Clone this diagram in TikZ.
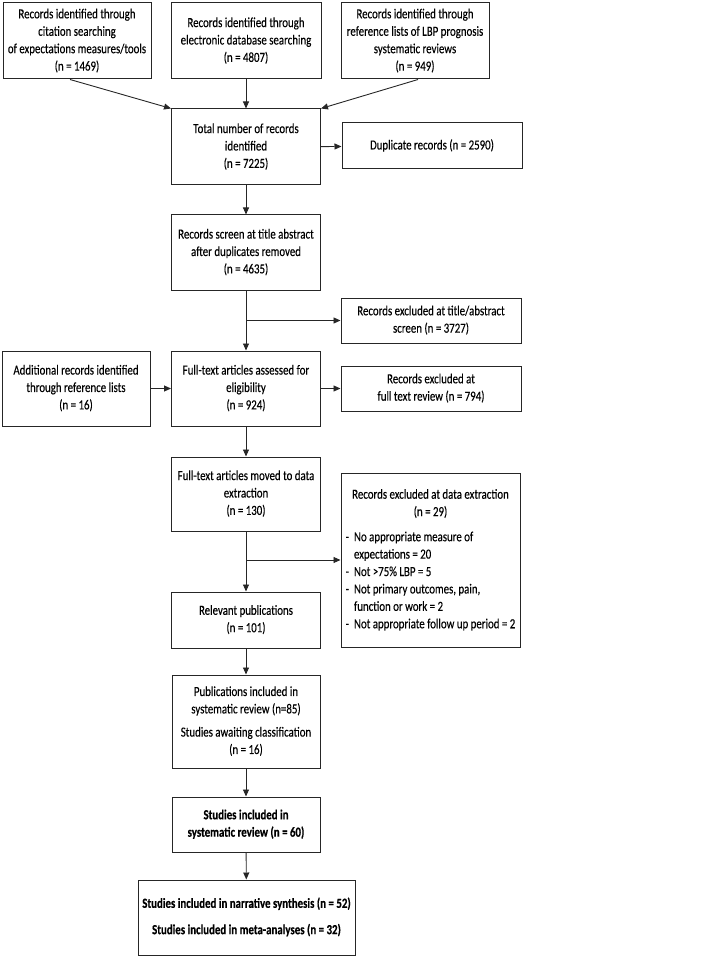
\documentclass[tikz,border=0pt]{standalone}
\usepackage{fontspec}
\setmainfont{Carlito}[UprightFeatures={FakeBold=0.3},BoldFeatures={FakeBold=0.5}]
\usetikzlibrary{arrows.meta,calc}
\newcommand\stx[1]{\scalebox{1}[1.28]{\begin{tabular}{@{}c@{}}#1\end{tabular}}}
\newcommand\stl[1]{\scalebox{1}[1.28]{\begin{tabular}{@{}l@{}}#1\end{tabular}}}
\newcommand\ind{\phantom{-}\hspace{5pt}}
\begin{document}
\begin{tikzpicture}[x=1pt,y=-1pt,
  box/.style={draw=black!85, line width=1pt, inner sep=0pt, align=center,
    font=\fontsize{10.85}{13.6}\selectfont},
  arr/.style={draw=black!85, line width=0.9pt, -{Triangle[length=7pt,width=6pt]}},
  ln/.style={draw=black!85, line width=0.9pt}]
\useasboundingbox (0,0) rectangle (703,957);

\node[box, minimum width=148pt, minimum height=76pt] (a) at (77,41)
  {\stx{Records identified through\\citation searching\\of expectations measures/tools\\(n = 1469)}};
\node[box, minimum width=150pt, minimum height=76pt] (b) at (246,41)
  {\stx{Records identified through\\electronic database searching\\(n = 4807)}};
\node[box, minimum width=148pt, minimum height=76pt] (c) at (415,41)
  {\stx{Records identified through\\reference lists of LBP prognosis\\systematic reviews\\(n = 949)}};
\node[box, minimum width=149pt, minimum height=76pt] (tot) at (246,147)
  {\stx{Total number of records\\identified\\(n = 7225)}};
\node[box, minimum width=180pt, minimum height=46pt] (dup) at (432,146)
  {\stx{Duplicate records (n = 2590)}};
\node[box, minimum width=149pt, minimum height=75pt] (scr) at (246,252.5)
  {\stx{Records screen at title abstract\\after duplicates removed\\(n = 4635)}};
\node[box, minimum width=180pt, minimum height=45pt] (ex1) at (431,320.5)
  {\stx{Records excluded at title/abstract\\screen (n = 3727)}};
\node[box, minimum width=148pt, minimum height=75pt] (add) at (76,388.5)
  {\stx{Additional records identified\\through reference lists\\(n = 16)}};
\node[box, minimum width=149pt, minimum height=75pt] (eli) at (246,388.5)
  {\stx{Full-text articles assessed for\\eligibility\\(n = 924)}};
\node[box, minimum width=180pt, minimum height=45pt] (ex2) at (431,388.5)
  {\stx{Records excluded at\\full text review (n = 794)}};
\node[box, minimum width=149pt, minimum height=74pt] (mov) at (246,494)
  {\stx{Full-text articles moved to data\\extraction\\(n = 130)}};
\node[box, minimum width=179pt, minimum height=174pt] (ex3) at (430.5,560)
  {\stl{\multicolumn{1}{c}{Records excluded at data extraction}\\
        \multicolumn{1}{c}{(n = 29)}\\[6pt]
        -\hspace{5pt}No appropriate measure of\\
        \ind expectations = 20\\
        -\hspace{5pt}Not >75\% LBP = 5\\
        -\hspace{5pt}Not primary outcomes, pain,\\
        \ind function or work = 2\\
        -\hspace{5pt}Not appropriate follow up period = 2}};
\node[box, minimum width=149pt, minimum height=56pt] (rel) at (246,620)
  {\stx{Relevant publications\\(n = 101)}};
\node[box, minimum width=148pt, minimum height=93pt] (pub) at (246,721.5)
  {\stx{Publications included in\\systematic review (n=85)\\[4.5pt]Studies awaiting classification\\(n = 16)}};
\node[box, minimum width=148pt, minimum height=55pt] (s60) at (246,824.5)
  {\stx{\bfseries Studies included in\\\bfseries systematic review (n = 60)}};
\node[box, minimum width=217pt, minimum height=75pt] (fin) at (246.5,917.5)
  {\stx{\bfseries Studies included in narrative synthesis (n = 52)\\[7pt]\bfseries Studies included in meta-analyses (n = 32)}};

\draw[arr] ($(a.south)+(-7,0)$) -- (tot.north west);
\draw[arr] (b) -- (tot);
\draw[arr] ($(c.south)+(3,0)$) -- (tot.north east);
\draw[arr] (tot) -- (dup);
\draw[arr] (tot) -- (scr);
\coordinate (br1) at (scr.south |- ex1.west);
\draw[arr] (scr) -- (eli);
\draw[arr] (br1) -- (ex1.west);
\draw[arr] (add) -- (eli);
\draw[arr] (eli) -- (ex2);
\draw[arr] (eli) -- (mov);
\coordinate (br3) at (mov.south |- ex3.west);
\draw[arr] (mov) -- (rel);
\draw[arr] (br3) -- (ex3.west);
\draw[arr] (rel) -- (pub);
\draw[arr] (pub) -- (s60);
\draw[arr] (s60) -- (fin);
\end{tikzpicture}
\end{document}
